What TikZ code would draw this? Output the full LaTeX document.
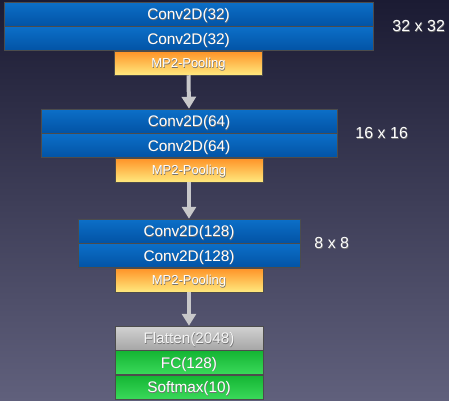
\documentclass[tikz,border=0pt]{standalone}
\usepackage{fontspec}
\setmainfont{Liberation Sans}
\usepackage{tikz}
\usetikzlibrary{positioning, arrows.meta}
\usepackage{xcolor}
\definecolor{bgtop}{HTML}{1B1B33}
\definecolor{bgbot}{HTML}{60607C}
\definecolor{convtop}{HTML}{0C6FC8}
\definecolor{convbot}{HTML}{0253A5}
\definecolor{pooltop}{HTML}{FF9226}
\definecolor{poolbot}{HTML}{FFE97E}
\definecolor{flattop}{HTML}{D2D2D2}
\definecolor{flatbot}{HTML}{A6A6A6}
\definecolor{fctop}{HTML}{14B533}
\definecolor{fcbot}{HTML}{3AD95A}
\definecolor{arrowgray}{HTML}{C8C8CA}
\newcommand{\shtext}[1]{\makebox[0pt][l]{\hspace{0.5pt}\raisebox{-0.8pt}{\textcolor{black!55}{#1}}}#1}
\tikzset{
	layer/.style={draw=black!70, line width=0.5pt, inner sep=0pt, minimum height=24pt, text=white, text height=11pt, text depth=0pt},
	conv/.style={layer, top color=convtop, bottom color=convbot, font=\fontsize{15.3}{15}\selectfont},
	pool/.style={layer, top color=pooltop, bottom color=poolbot, minimum width=148pt, text height=9.6pt, font=\fontsize{13}{13}\selectfont},
	flat/.style={layer, top color=flattop, bottom color=flatbot, minimum width=148pt, text=white!96!black, font=\fontsize{15.3}{15}\selectfont},
	fc/.style={layer, top color=fctop, bottom color=fcbot, minimum width=148pt, font=\fontsize{15.3}{15}\selectfont},
	size/.style={text=white, inner sep=0pt, text height=11.4pt, text depth=0pt, font=\fontsize{16}{16}\selectfont},
	flow/.style={arrowgray, line width=4pt, -{Triangle[width=14pt, length=12pt]}}
}
\begin{document}
\begin{tikzpicture}[x=1pt, y=-1pt]
	\shade[top color=bgtop, bottom color=bgbot] (0,0) rectangle (449,400);
	\useasboundingbox (0,0) rectangle (449,400);
	
	% block 1
	\node[conv, minimum width=369pt] (conv1a) at (188.5,14) {\shtext{Conv2D(32)}};
	\node[conv, minimum width=369pt, below=0pt of conv1a] (conv1b) {\shtext{Conv2D(32)}};
	\node[pool, below=0pt of conv1b] (pool1) {\shtext{MP2-Pooling}};
	\node[size, right=19pt of conv1a.south east] (size1) {\shtext{32 x 32}};
	
	% block 2
	\node[conv, minimum width=296pt] (conv2a) at (189,121) {\shtext{Conv2D(64)}};
	\node[conv, minimum width=296pt, below=0pt of conv2a] (conv2b) {\shtext{Conv2D(64)}};
	\node[pool, below=0pt of conv2b] (pool2) {\shtext{MP2-Pooling}};
	\node[size, right=18pt of conv2a.south east] (size2) {\shtext{16 x 16}};
	
	% block 3
	\node[conv, minimum width=222pt] (conv3a) at (189,231) {\shtext{Conv2D(128)}};
	\node[conv, minimum width=222pt, below=0pt of conv3a] (conv3b) {\shtext{Conv2D(128)}};
	\node[pool, below=0pt of conv3b] (pool3) {\shtext{MP2-Pooling}};
	\node[size, right=14pt of conv3a.south east] (size3) {\shtext{8 x 8}};
	
	% classifier
	\node[flat] (flatten) at (189,338) {\shtext{Flatten(2048)}};
	\node[fc, below=0pt of flatten] (fc) {\shtext{FC(128)}};
	\node[fc, below=0pt of fc] (softmax) {\shtext{Softmax(10)}};
	
	\draw[flow] (pool1.south) -- (conv2a.north);
	\draw[flow] (pool2.south) -- (conv3a.north);
	\draw[flow] (pool3.south) -- (flatten.north);
\end{tikzpicture}
\end{document}
